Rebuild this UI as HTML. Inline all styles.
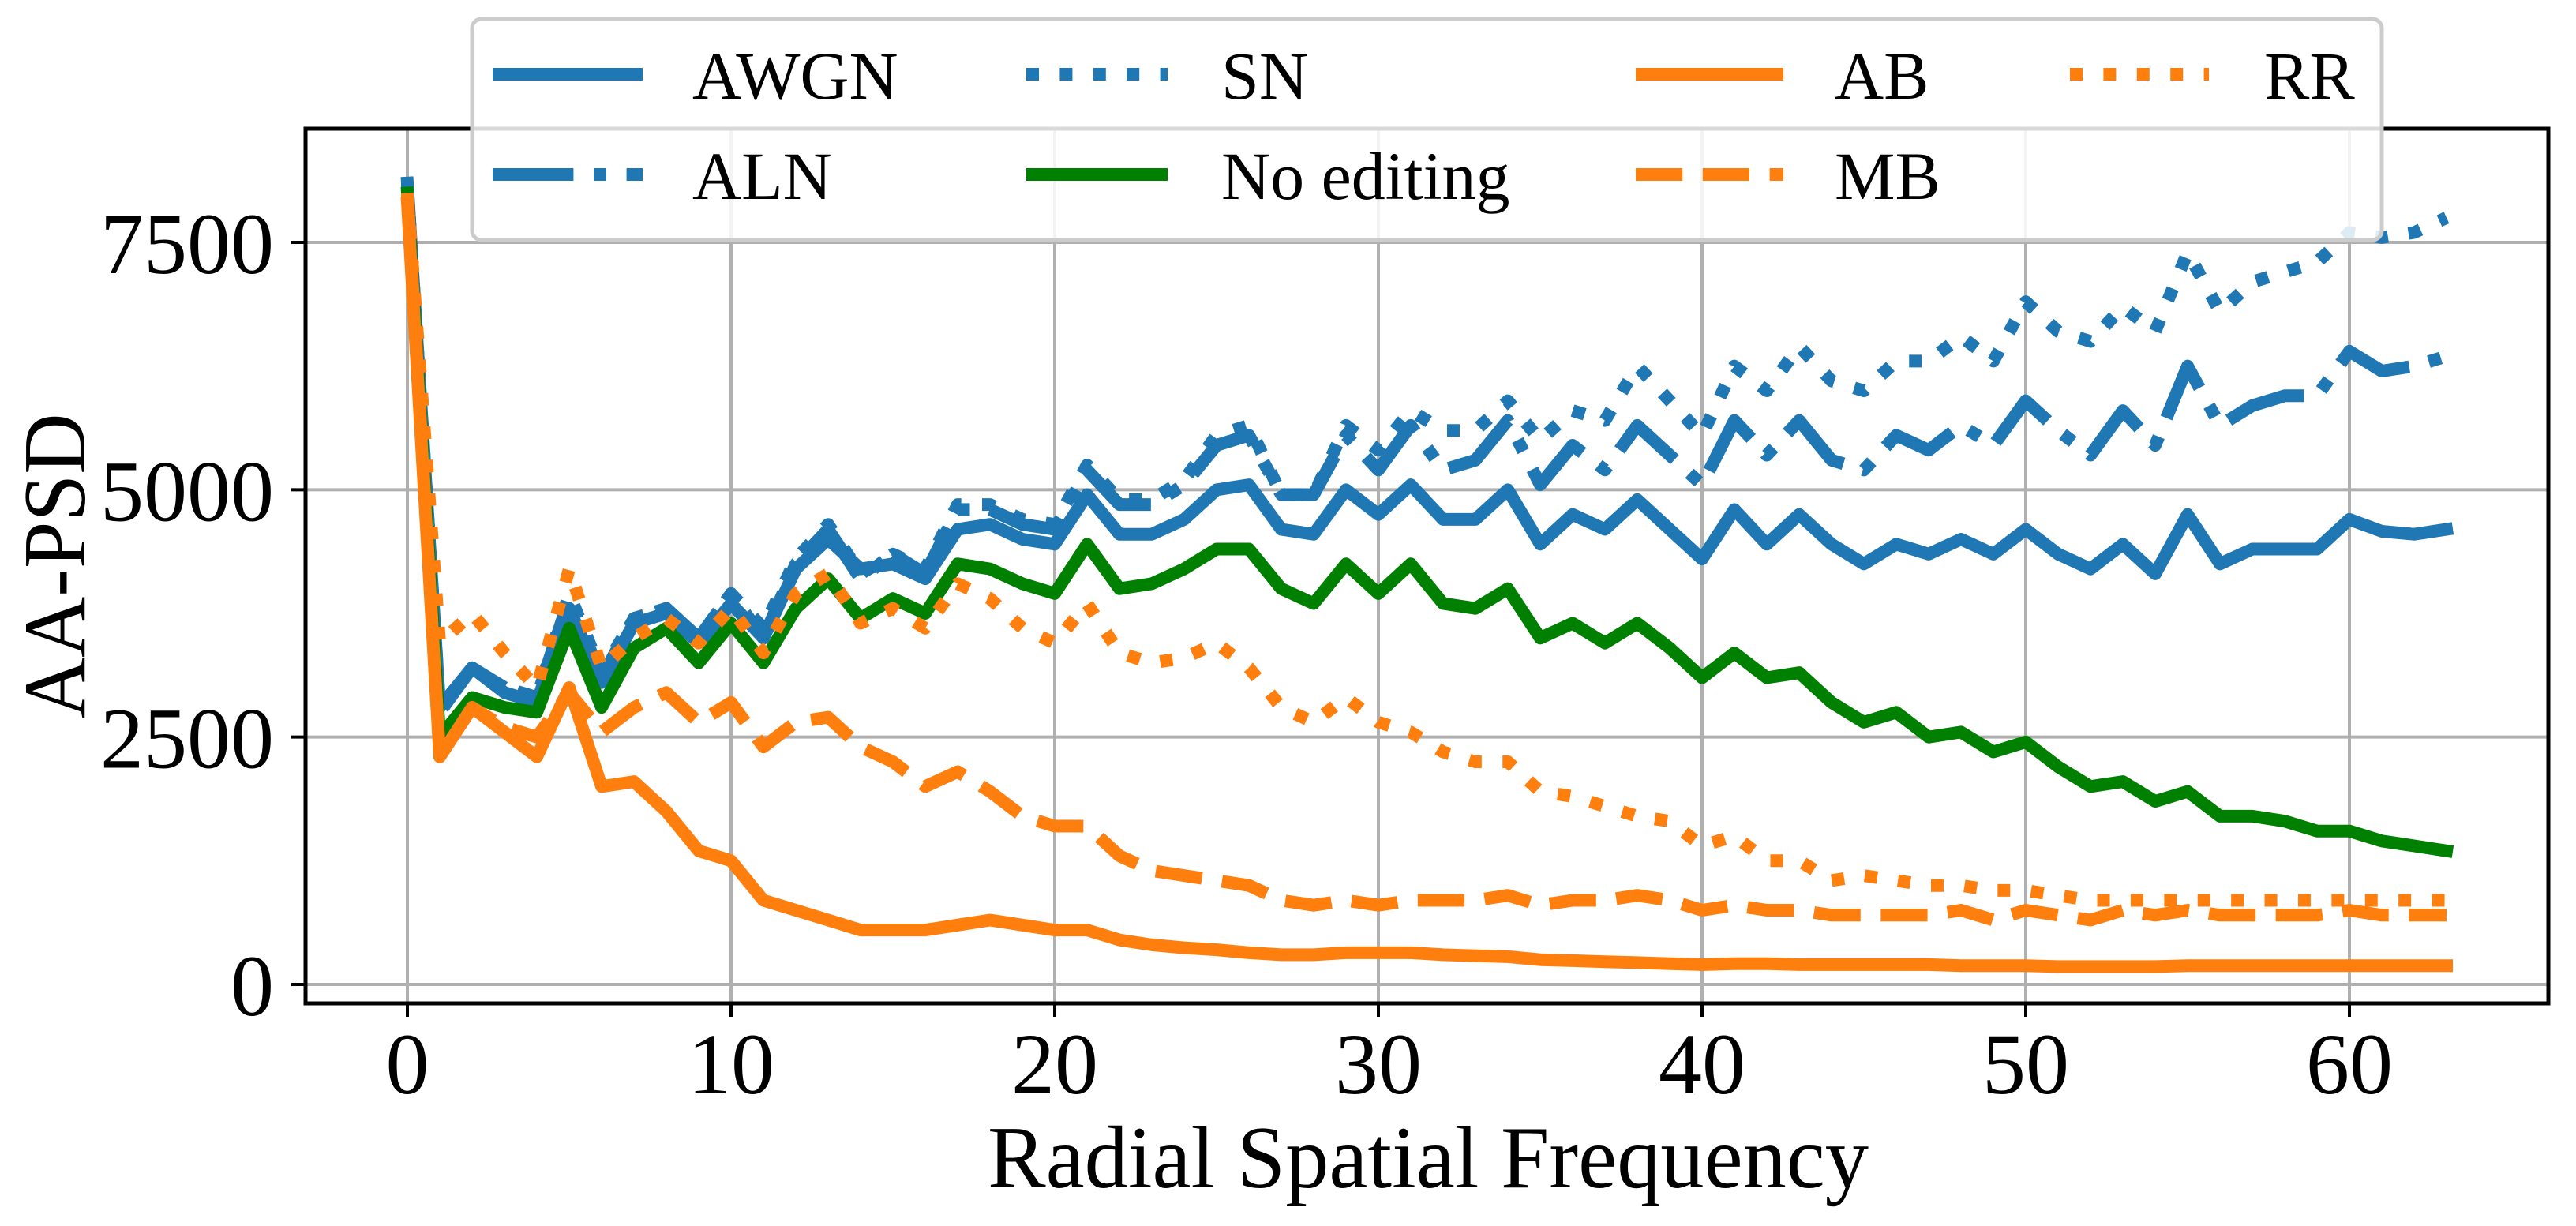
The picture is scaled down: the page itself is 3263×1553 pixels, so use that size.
<!DOCTYPE html>
<html><head><meta charset="utf-8"><style>
html,body{margin:0;padding:0;background:#fff;}
svg{display:block;}
text{font-family:"Liberation Serif",serif;fill:#000;}
</style></head><body>
<svg id="chart" width="3263" height="1553" viewBox="0 0 3263 1553" xmlns="http://www.w3.org/2000/svg">
<g id="grid"></g>
<g id="series"></g>
<g id="axes"></g>
<g id="legend"></g>
</svg>
<script>
const xs = Array.from({length:64},(_, i)=>i);
const awgn = [8100,2800,3200,2950,2850,3800,3050,3650,3750,3450,3850,3500,4200,4500,4200,4250,4100,4600,4650,4500,4450,4950,4550,4550,4700,5000,5050,4600,4550,5000,4750,5050,4700,4700,5000,4450,4750,4600,4900,4600,4300,4800,4450,4750,4450,4250,4450,4350,4500,4350,4600,4350,4200,4450,4150,4750,4250,4400,4400,4400,4700,4580,4550,4600];
const aln = [8100,2750,3200,3000,2900,3900,3100,3700,3800,3500,3950,3500,4250,4600,4100,4350,4150,4800,4800,4650,4600,5200,4850,4850,5050,5450,5550,4950,4950,5550,5200,5650,5200,5300,5700,5050,5450,5200,5650,5350,5050,5700,5350,5700,5300,5200,5550,5400,5650,5450,5900,5600,5350,5800,5450,6250,5650,5850,5950,5950,6400,6200,6250,6350];
const sn = [8100,2800,3200,3000,2900,3950,3150,3700,3800,3500,3950,3600,4300,4650,4150,4350,4200,4850,4850,4700,4650,5250,4900,4900,5100,5550,5650,4950,4950,5650,5400,5800,5600,5600,5900,5500,5800,5700,6250,5900,5550,6250,6000,6450,6100,6000,6300,6300,6550,6300,6900,6600,6500,6850,6600,7400,6800,7100,7200,7300,7600,7550,7600,7750];
const noEdit = [8000,2500,2900,2800,2750,3600,2800,3400,3600,3250,3650,3250,3800,4100,3700,3900,3750,4250,4200,4050,3950,4450,4000,4050,4200,4400,4400,4000,3850,4250,3950,4250,3850,3800,4000,3500,3650,3450,3650,3400,3100,3350,3100,3150,2850,2650,2750,2500,2550,2350,2450,2200,2000,2050,1850,1950,1700,1700,1650,1550,1550,1450,1400,1350];
const ab = [7900,2300,2800,2550,2300,3000,2000,2050,1750,1350,1250,850,750,650,550,550,550,600,650,600,550,550,450,400,370,350,320,300,300,320,320,320,300,290,280,250,240,230,220,210,200,210,210,200,200,200,200,200,190,190,190,180,180,180,180,190,190,190,190,190,190,190,190,190];
const mb = [8000,2300,2800,2600,2500,2950,2550,2800,2950,2650,2850,2400,2650,2700,2400,2250,2000,2150,1950,1700,1600,1600,1300,1150,1100,1050,1000,850,800,850,800,850,850,850,900,800,850,850,900,850,750,800,750,750,700,700,700,700,750,650,750,700,650,750,700,750,700,700,700,700,750,700,700,700];
const rr = [8000,3450,3750,3350,3000,4200,3200,3500,3700,3450,3800,3350,3950,4150,3650,3800,3600,4050,3900,3600,3450,3850,3350,3250,3300,3450,3200,2800,2650,2900,2650,2550,2350,2250,2250,1950,1900,1800,1700,1650,1400,1500,1250,1250,1050,1100,1050,1000,1000,950,950,900,850,850,850,850,850,850,850,850,850,850,850,850];
const xTicks = [0,10,20,30,40,50,60];
const yTicks = [0,2500,5000,7500];
const labels = ["AWGN","ALN","SN","No editing","AB","MB","RR"];

const NS="http://www.w3.org/2000/svg";
const L=387,R=3228,T=163,B=1271;
const X=v=>516+v*41.0;
const Y=v=>1247-v*0.12533;
const LW=16;
function mk(tag,attrs,parent){const e=document.createElementNS(NS,tag);for(const k in attrs)e.setAttribute(k,attrs[k]);parent.appendChild(e);return e;}
const grid=document.getElementById('grid'),ser=document.getElementById('series'),axes=document.getElementById('axes'),leg=document.getElementById('legend');

xTicks.forEach(t=>{
  const g=mk('line',{x1:X(t),x2:X(t),y1:T,y2:B,stroke:'#b0b0b0','stroke-width':4},grid);
  
  
  const tk=mk('line',{x1:X(t),x2:X(t),y1:B,y2:B+17,stroke:'#000','stroke-width':4},axes);
  
  
  const tx=mk('text',{x:X(t),y:1385,'text-anchor':'middle','font-size':110},axes);
  tx.textContent=t;
  
  
});
yTicks.forEach(t=>{
  const g=mk('line',{x1:L,x2:R,y1:Y(t),y2:Y(t),stroke:'#b0b0b0','stroke-width':4},grid);
  
  
  const tk=mk('line',{x1:L-18,x2:L,y1:Y(t),y2:Y(t),stroke:'#000','stroke-width':4},axes);
  
  
  const tx=mk('text',{x:347,y:Y(t)+39,'text-anchor':'end','font-size':110},axes);
  tx.textContent=t;
  
  
});
const frame=mk('rect',{x:L,y:T,width:R-L,height:B-T,fill:'none',stroke:'#000','stroke-width':5},axes);


const xl=mk('text',{x:1809,y:1504,'text-anchor':'middle','font-size':112,textLength:1116,lengthAdjust:'spacingAndGlyphs'},axes);
xl.textContent='Radial Spatial Frequency';


const yl=mk('text',{x:0,y:0,'text-anchor':'middle','font-size':112,textLength:387,lengthAdjust:'spacingAndGlyphs',transform:'translate(107,717) rotate(-90)'},axes);
yl.textContent='AA-PSD';



const BLUE='#1f77b4',ORANGE='#ff7f0e',GREEN='#008000';
const dot=`${1*LW} ${1.65*LW}`, dash=`${3.7*LW} ${1.6*LW}`, dashdot=`${6.4*LW} ${1.6*LW} ${1*LW} ${1.6*LW}`;
const defs=[
 {d:awgn,c:BLUE,da:'',name:'series-awgn'},
 {d:aln,c:BLUE,da:dashdot,name:'series-aln'},
 {d:sn,c:BLUE,da:dot,name:'series-sn'},
 {d:noEdit,c:GREEN,da:'',name:'series-no-editing'},
 {d:ab,c:ORANGE,da:'',name:'series-ab'},
 {d:mb,c:ORANGE,da:dash,name:'series-mb'},
 {d:rr,c:ORANGE,da:dot,name:'series-rr'}
];
defs.forEach(s=>{
  const pts=s.d.map((v,i)=>X(xs[i]).toFixed(1)+','+Y(v).toFixed(1)).join(' ');
  const p=mk('polyline',{points:pts,fill:'none',stroke:s.c,'stroke-width':LW,'stroke-linejoin':'round','stroke-linecap':s.da?'butt':'square'},ser);
  if(s.da)p.setAttribute('stroke-dasharray',s.da);
  
  
});

const box=mk('rect',{x:598,y:24,width:2419,height:280,rx:12,fill:'rgba(255,255,255,0.85)',stroke:'#cccccc','stroke-width':5},leg);


const cols=[[624,814,877],[1300,1479,1547],[2072,2259,2324],[2622,2798,2868]];
const rows=[94,221];
defs.forEach((s,i)=>{
  const c=cols[Math.floor(i/2)],ry=rows[i%2];
  const g=mk('g',{},leg);
  
  
  const ln=mk('line',{x1:c[0],x2:c[1],y1:ry,y2:ry,stroke:s.c,'stroke-width':LW,'stroke-linecap':'butt'},g);
  if(s.da)ln.setAttribute('stroke-dasharray',s.da);
  
  
  const t=mk('text',{x:c[2],y:ry+31,'font-size':86},g);
  t.textContent=labels[i];
  
  
});
</script>
</body></html>
